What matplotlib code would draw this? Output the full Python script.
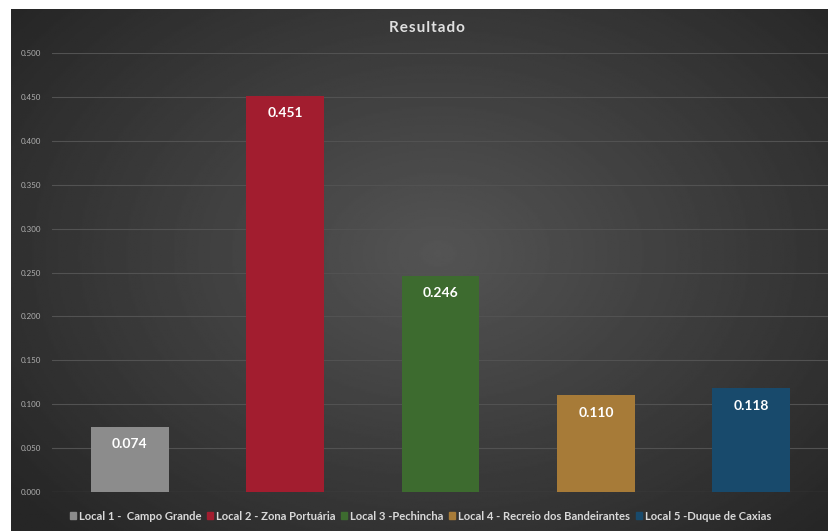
import numpy as np
import matplotlib.pyplot as plt
from matplotlib.patches import Rectangle

plt.rcParams['font.family'] = ['Lato', 'DejaVu Sans']

locais = ["Local 1 -  Campo Grande", "Local 2 - Zona Portuária", "Local 3 -Pechincha",
          "Local 4 - Recreio dos Bandeirantes", "Local 5 -Duque de Caxias"]
valores = [0.074, 0.451, 0.246, 0.110, 0.118]
cores = ["#8c8c8c", "#a21d2f", "#3d6b2f", "#a77b38", "#184a6c"]
yticks = [0.0, 0.05, 0.1, 0.15, 0.2, 0.25, 0.3, 0.35, 0.4, 0.45, 0.5]

W, H = 829, 531
fig = plt.figure(figsize=(W / 100, H / 100), dpi=100)
fig.patch.set_facecolor("white")

# dark radial background
bg = fig.add_axes([11 / W, 0, 1 - 11 / W, (H - 9) / H])
yy, xx = np.mgrid[0:300, 0:480]
r = np.sqrt(((xx - 250) / 300.0) ** 2 + ((yy - 140) / 210.0) ** 2)
shade = np.clip(0.33 - 0.17 * r, 0.15, 0.33)
bg.imshow(shade, cmap="gray", vmin=0, vmax=1, aspect="auto", extent=[0, 1, 0, 1])
bg.axis("off")

ax = fig.add_axes([52 / W, (H - 492) / H, (829 - 52) / W, (492 - 53) / H])
ax.set_facecolor("none")
x = np.arange(len(valores))
ax.bar(x, valores, width=0.5, color=cores, zorder=3)
ax.set_xlim(-0.5, 4.5)
ax.set_ylim(0, 0.5)
ax.set_yticks(yticks)
ax.set_yticklabels(["%.3f" % t for t in yticks], color="#b0b0b0", fontsize=5.8)
ax.set_xticks([])
ax.tick_params(axis="y", length=0, pad=8)
ax.grid(axis="y", color="#525252", linewidth=0.8, zorder=0)
for s in ax.spines.values():
    s.set_visible(False)
ax.axhline(0, color="#5e5e5e", linewidth=0.8, zorder=2)

for xi, v in zip(x, valores):
    ax.annotate("%.3f" % v, (xi, v), xytext=(0, -8), textcoords="offset points",
                ha="center", va="top", color="white", fontsize=10, fontweight="bold", zorder=4)

fig.text(427 / W, (H - 28) / H, "R e s u l t a d o".replace(" ", "\u200a"), ha="center", va="center",
         color="#e0e0e0", fontsize=11, fontweight="bold")

handles = [Rectangle((0, 0), 1, 1, color=c) for c in cores]
leg = fig.legend(handles, locais, loc="center", bbox_to_anchor=(0.507, (H - 516) / H), ncol=5,
                 frameon=False, fontsize=8.1, handlelength=0.55, handleheight=0.55,
                 handletextpad=0.25, columnspacing=0.5)
for t in leg.get_texts():
    t.set_color("#d9d9d9")
    t.set_fontweight("bold")

fig.savefig("out.png", dpi=100, facecolor=fig.get_facecolor())
